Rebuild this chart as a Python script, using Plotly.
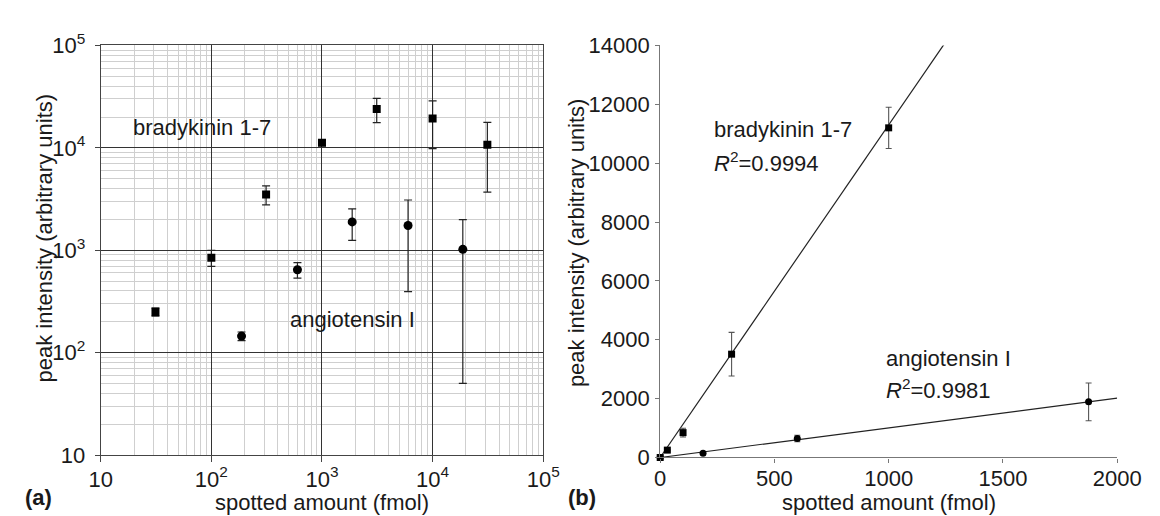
import plotly.graph_objects as go

# ---------------- data ----------------
bk_amount = [31.25, 100, 312.5, 1000, 3125, 10000, 31250]          # fmol
bk_intensity = [250, 845, 3510, 11200, 24000, 19300, 10700]
bk_error = [23, 150, 740, 700, 6400, 9500, 7000]

ang_amount = [187.5, 600, 1875, 6000, 18750]                        # fmol
ang_intensity = [145, 645, 1890, 1745, 1020]
ang_error = [14, 110, 640, 1350, 970]

blank_amount = [0]
blank_intensity = [0]

# linear fits shown in panel (b)
bk_fit_slope = 11.3
bk_r2 = "0.9994"
ang_fit_slope = 1.007
ang_r2 = "0.9981"
bk_lin_limit = 1000      # highest amount of each series shown in panel (b)
ang_lin_limit = 1875

log_ticks = [10, 100, 1000, 10000, 100000]
log_ticktext = ["10", "10<sup>2</sup>", "10<sup>3</sup>", "10<sup>4</sup>", "10<sup>5</sup>"]
lin_xticks = [0, 500, 1000, 1500, 2000]
lin_yticks = [0, 2000, 4000, 6000, 8000, 10000, 12000, 14000]

FONT = "Arial, Liberation Sans, Helvetica, sans-serif"
TXT = "#1a1a1a"
W, H = 1160, 516
FS = 22

minor_vals = [m * 10 ** k for k in range(1, 5) for m in range(2, 10)]

fig = go.Figure()

# ---------------- panel (a): log-log ----------------
fig.add_trace(go.Scatter(
    x=bk_amount, y=bk_intensity, mode="markers",
    marker=dict(symbol="square", size=8, color="black"),
    error_y=dict(type="data", array=bk_error, visible=True, color="#222",
                 thickness=1.2, width=4),
    xaxis="x", yaxis="y", showlegend=False))
fig.add_trace(go.Scatter(
    x=ang_amount, y=ang_intensity, mode="markers",
    marker=dict(symbol="circle", size=9, color="black"),
    error_y=dict(type="data", array=ang_error, visible=True, color="#222",
                 thickness=1.2, width=4),
    xaxis="x", yaxis="y", showlegend=False))

# ---------------- panel (b): linear ----------------
bk_lin_x = blank_amount + [a for a in bk_amount if a <= bk_lin_limit]
bk_lin_y = blank_intensity + [v for a, v in zip(bk_amount, bk_intensity) if a <= bk_lin_limit]
bk_lin_e = [0] + [e for a, e in zip(bk_amount, bk_error) if a <= bk_lin_limit]
ang_lin_x = blank_amount + [a for a in ang_amount if a <= ang_lin_limit]
ang_lin_y = blank_intensity + [v for a, v in zip(ang_amount, ang_intensity) if a <= ang_lin_limit]
ang_lin_e = [0] + [e for a, e in zip(ang_amount, ang_error) if a <= ang_lin_limit]

fit_x = [lin_xticks[0], lin_xticks[-1]]
fig.add_trace(go.Scatter(
    x=fit_x, y=[bk_fit_slope * v for v in fit_x], mode="lines",
    line=dict(color="#222", width=1.2), xaxis="x2", yaxis="y2", showlegend=False))
fig.add_trace(go.Scatter(
    x=fit_x, y=[ang_fit_slope * v for v in fit_x], mode="lines",
    line=dict(color="#222", width=1.2), xaxis="x2", yaxis="y2", showlegend=False))

fig.add_trace(go.Scatter(
    x=bk_lin_x, y=bk_lin_y, mode="markers", cliponaxis=False,
    marker=dict(symbol="square", size=7, color="black"),
    error_y=dict(type="data", array=bk_lin_e, visible=True, color="#555",
                 thickness=1.1, width=3),
    xaxis="x2", yaxis="y2", showlegend=False))
fig.add_trace(go.Scatter(
    x=ang_lin_x, y=ang_lin_y, mode="markers", cliponaxis=False,
    marker=dict(symbol="circle", size=7, color="black"),
    error_y=dict(type="data", array=ang_lin_e, visible=True, color="#555",
                 thickness=1.1, width=3),
    xaxis="x2", yaxis="y2", showlegend=False))

# ---------------- layout ----------------
ax_font = dict(family=FONT, size=FS, color=TXT)

fig.update_layout(
    width=W, height=H,
    margin=dict(l=0, r=0, t=0, b=0),
    paper_bgcolor="white", plot_bgcolor="white",
    font=dict(family=FONT, size=FS, color=TXT),
    xaxis=dict(
        type="log", domain=[83.3 / W, 540 / W], range=[1, 5],
        tickmode="array", tickvals=log_ticks, ticktext=log_ticktext,
        ticks="outside", ticklen=6, tickcolor="#444", tickfont=ax_font,
        ticklabelstandoff=-2,
        showgrid=True, gridcolor="#333", gridwidth=1,
        minor=dict(tickmode="array", tickvals=minor_vals, showgrid=True,
                   gridcolor="#cfcfcf", gridwidth=1, ticks=""),
        showline=True, linecolor="#444", linewidth=1.2, mirror=True,
        zeroline=False, anchor="y"),
    yaxis=dict(
        type="log", domain=[(H - 456.7) / H, (H - 22.7) / H], range=[1, 5],
        tickmode="array", tickvals=log_ticks, ticktext=log_ticktext,
        ticks="outside", ticklen=5, tickcolor="#444", tickfont=ax_font,
        ticklabelstandoff=5,
        showgrid=True, gridcolor="#333", gridwidth=1,
        minor=dict(tickmode="array", tickvals=minor_vals, showgrid=True,
                   gridcolor="#cfcfcf", gridwidth=1, ticks=""),
        showline=True, linecolor="#444", linewidth=1.2, mirror=True,
        zeroline=False, anchor="x"),
    xaxis2=dict(
        domain=[660.7 / W, 1132.3 / W], range=[0, 2000],
        tickmode="array", tickvals=lin_xticks,
        ticks="outside", ticklen=4, tickcolor="#777", tickfont=ax_font,
        ticklabelstandoff=-3,
        showgrid=False, zeroline=False,
        showline=True, linecolor="#777", linewidth=1.2, anchor="y2"),
    yaxis2=dict(
        domain=[(H - 459.3) / H, (H - 22.7) / H], range=[0, 14000],
        tickmode="array", tickvals=lin_yticks, tickformat="d",
        ticks="outside", ticklen=4, tickcolor="#777", tickfont=ax_font,
        ticklabelstandoff=1,
        showgrid=False, zeroline=False,
        showline=True, linecolor="#777", linewidth=1.2, anchor="x2"),
)

ann = []
def txt(text, x, y, xref="paper", yref="paper", xanchor="center", yanchor="middle",
        size=FS, angle=0, bold=False):
    ann.append(dict(text=("<b>%s</b>" % text) if bold else text, x=x, y=y,
                    xref=xref, yref=yref, xanchor=xanchor, yanchor=yanchor,
                    showarrow=False, textangle=angle,
                    font=dict(family=FONT, size=size, color=TXT)))

# axis titles
txt("spotted amount (fmol)", 311.7 / W, 1 - 507 / H)
txt("spotted amount (fmol)", 896.5 / W, 1 - 507 / H)
txt("peak intensity (arbitrary units)", 25 / W, 1 - 227 / H, angle=-90)
txt("peak intensity (arbitrary units)", 575 / W, 1 - 232 / H, angle=-90)
# panel labels
txt("(a)", 3 / W, 1 - 502 / H, xanchor="left", size=22, bold=True)
txt("(b)", 563 / W, 1 - 502 / H, xanchor="left", size=22, bold=True)

# series labels, panel (a) (log axes -> log10 coordinates)
txt("bradykinin 1-7", 1.917, 4.195, xref="x", yref="y")
txt("angiotensin I", 3.274, 2.324, xref="x", yref="y")
# series labels, panel (b)
txt("bradykinin 1-7", 226, 11150, xref="x2", yref="y2", xanchor="left")
txt("<i>R</i><sup>2</sup>=" + bk_r2, 226, 10050, xref="x2", yref="y2", xanchor="left")
txt("angiotensin I", 980, 3370, xref="x2", yref="y2", xanchor="left")
txt("<i>R</i><sup>2</sup>=" + ang_r2, 980, 2330, xref="x2", yref="y2", xanchor="left")

fig.update_layout(annotations=ann)
fig.write_html("out.html")
